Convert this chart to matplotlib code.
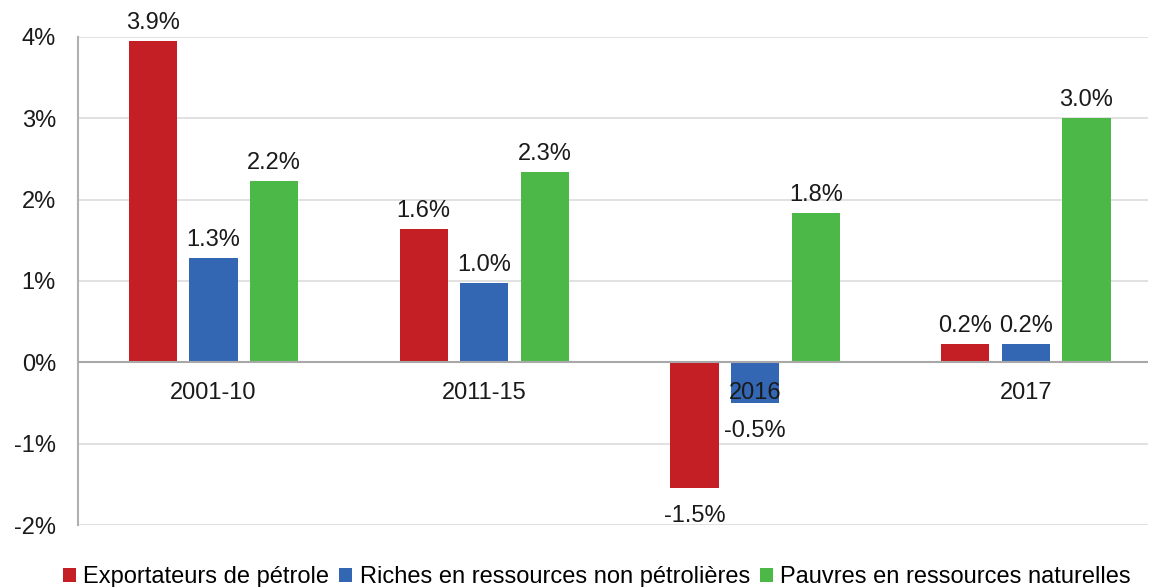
import numpy as np
import matplotlib.pyplot as plt

plt.rcParams['font.family'] = ['Liberation Sans', 'DejaVu Sans']

periodes = ["2001-10", "2011-15", "2016", "2017"]
exportateurs = [3.95, 1.64, -1.55, 0.22]
riches = [1.28, 0.98, -0.50, 0.22]
pauvres = [2.23, 2.34, 1.83, 3.00]
etiquettes_exp = ["3.9%", "1.6%", "-1.5%", "0.2%"]
etiquettes_riches = ["1.3%", "1.0%", "-0.5%", "0.2%"]
etiquettes_pauvres = ["2.2%", "2.3%", "1.8%", "3.0%"]

series = [
    ("Exportateurs de pétrole", exportateurs, etiquettes_exp, "#C41F25"),
    ("Riches en ressources non pétrolières", riches, etiquettes_riches, "#3366B3"),
    ("Pauvres en ressources naturelles", pauvres, etiquettes_pauvres, "#4CB848"),
]

fig = plt.figure(figsize=(11.5, 5.87), dpi=100)
ax = fig.add_axes([0.068, 0.1056, 0.93, 0.8314])

x = np.arange(len(periodes))
width = 0.178
step = 0.224

for i, (nom, vals, labs, col) in enumerate(series):
    pos = x + (i - 1) * step
    ax.bar(pos, vals, width=width, color=col, label=nom, zorder=3)
    for p, v, t in zip(pos, vals, labs):
        off = 13 if v >= 0 else -20
        ax.annotate(t, (p, v), xytext=(0, off), textcoords="offset points",
                    ha="center", va="center", fontsize=17, color="#1a1a1a",
                    annotation_clip=False)

# category labels just below the zero line
for xi, lab in zip(x, periodes):
    ax.annotate(lab, (xi, 0), xytext=(0, -22), textcoords="offset points",
                ha="center", va="center", fontsize=17, color="#1a1a1a", zorder=5)

ax.set_xlim(-0.5, 3.45)
ax.set_ylim(-2, 4)
ax.set_yticks(range(-2, 5))
ax.set_yticklabels([f"{t}%" for t in range(-2, 5)], fontsize=17, color="#1a1a1a")
ax.set_xticks([])
ax.tick_params(axis="y", length=0, pad=16)
ax.grid(axis="y", color="#DCDCDC", linewidth=1.2, zorder=0)
ax.axhline(0, color="#A8A8A8", linewidth=1.5, zorder=4)

for s in ["top", "right", "bottom"]:
    ax.spines[s].set_visible(False)
ax.spines["left"].set_color("#B0B0B0")
ax.spines["left"].set_linewidth(1.5)

ax.legend(loc="upper center", bbox_to_anchor=(0.485, -0.065), ncol=3, frameon=False,
          fontsize=17, handlelength=0.55, handleheight=0.55, handletextpad=0.3,
          columnspacing=0.45, borderaxespad=0)

fig.savefig("out.png", dpi=100)
